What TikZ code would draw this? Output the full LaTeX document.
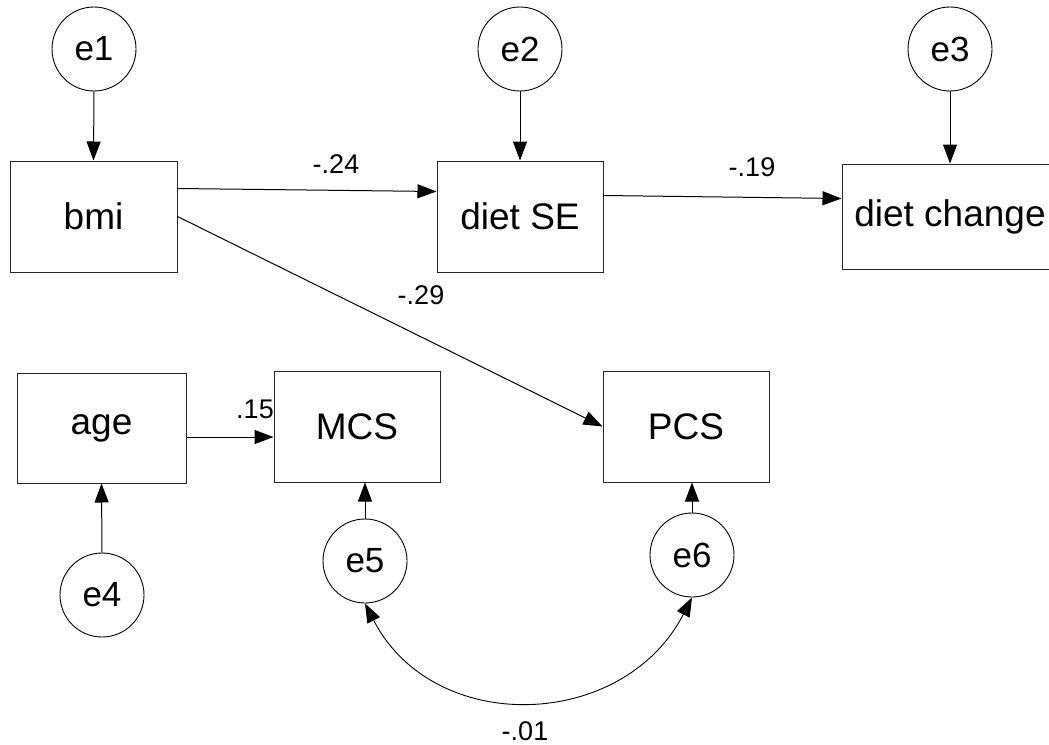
\documentclass[tikz,border=0pt]{standalone}
\usepackage{fontspec}
\setmainfont{Liberation Sans}
\usetikzlibrary{arrows.meta,calc}
\begin{document}
\begin{tikzpicture}[x=1pt,y=-1pt,
  var/.style={draw=black!85, line width=1pt, minimum width=166pt, minimum height=111pt, inner sep=0pt, font=\fontsize{37}{40}\selectfont},
  err/.style={circle, draw, line width=0.9pt, minimum size=84pt, inner sep=0pt, font=\fontsize{35}{38}\selectfont},
  lbl/.style={font=\fontsize{27}{30}\selectfont, inner sep=0pt},
  arr/.style={-{Triangle[length=19pt,width=14pt]}, line width=1pt},
  cov/.style={{Triangle[length=19pt,width=14pt]}-{Triangle[length=19pt,width=14pt]}, line width=0.9pt}]
\useasboundingbox (0,0) rectangle (1049,744);
\clip (0,0) rectangle (1049,744);
\fill[white] (0,0) rectangle (1049,744);

% error terms
\node[err] (e1) at (94,49) {e1};
\node[err] (e2) at (520,49) {e2};
\node[err] (e3) at (950,49) {e3};
\node[err] (e4) at (102,595) {e4};
\node[err] (e5) at (365,561) {e5};
\node[err] (e6) at (692,555) {e6};

% observed variables
\node[var, minimum width=167pt] (bmi) at (93.5,216.5) {bmi};
\node[var] (dse) at (520,216.5) {diet SE};
\node[var, minimum width=216pt, minimum height=105pt] (dch) at (950,216.5) {diet change};
\node[var, minimum width=169pt, minimum height=110pt] (age) at (101.5,428) {age};
\node[var] (mcs) at (357,426.5) {MCS};
\node[var] (pcs) at (686,426.5) {PCS};

% paths
\draw[arr] (e1.south) -- (bmi.north);
\draw[arr] (e2.south) -- (dse.north);
\draw[arr] (e3.south) -- (dch.north);
\draw[arr] ($(bmi.north east)+(0,28)$) -- ($(dse.north west)+(0,31)$);
\draw[arr] ($(dse.north east)+(0,35)$) -- ($(dch.north west)+(0,35)$);
\draw[arr] (bmi.east) -- (pcs.west);
\draw[arr] ($(age.east)+(0,9)$) -- ($(mcs.west)+(0,10.5)$);
\draw[arr] (e4.north) -- (age.south);
\draw[arr] (e5.north) -- (e5.north |- mcs.south);
\draw[arr] (e6.north) -- (e6.north |- pcs.south);
\draw[cov] (e5.south) .. controls +(68.6,133.3) and +(-68.6,133.3) .. (e6.south);

% labels
\node[lbl] (l1) at (336,164) {-.24};
\node[lbl] (l2) at (752,167) {-.19};
\node[lbl] (l3) at (421,295) {-.29};
\node[lbl] (l4) at (255,409) {.15};
\node[lbl] (l5) at (525,731) {-.01};
\end{tikzpicture}
\end{document}
